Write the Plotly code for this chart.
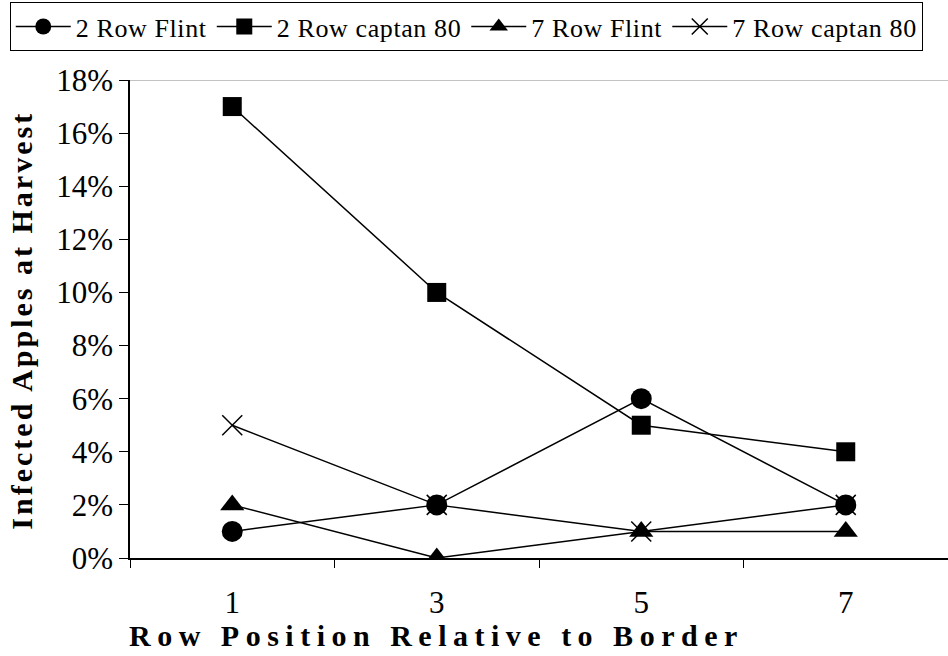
import plotly.graph_objects as go

# Row position relative to the orchard border
rows = ["1", "3", "5", "7"]

# Fraction of apples infected at harvest, per treatment
flint_2row = [0.01, 0.02, 0.06, 0.02]
captan_2row = [0.17, 0.10, 0.05, 0.04]
flint_7row = [0.02, 0.00, 0.01, 0.01]
captan_7row = [0.05, 0.02, 0.01, 0.02]

series_names = ["2 Row Flint", "2 Row captan 80", "7 Row Flint", "7 Row captan 80"]

y_tick_vals = [0.00, 0.02, 0.04, 0.06, 0.08, 0.10, 0.12, 0.14, 0.16, 0.18]
y_tick_text = ["0%", "2%", "4%", "6%", "8%", "10%", "12%", "14%", "16%", "18%"]

x_title = "Row Position Relative to Border"
y_title = "Infected Apples at Harvest"

SERIF = "Liberation Serif"
LINE = dict(color="black", width=1.5)


def spaced(text, px):
    return f"<span style='letter-spacing:{px}px'>{text}</span>"


fig = go.Figure()

# the cross series sits underneath the filled markers
fig.add_trace(go.Scatter(
    x=rows, y=captan_7row, name=spaced(series_names[3], 0.6), mode="lines+markers",
    line=LINE, legendrank=4,
    marker=dict(symbol="x-thin", size=20, color="black",
                line=dict(color="black", width=1.5)),
))
fig.add_trace(go.Scatter(
    x=rows, y=flint_2row, name=spaced(series_names[0], 0.6), mode="lines+markers",
    line=LINE, legendrank=1,
    marker=dict(symbol="circle", size=21, color="black"),
))
fig.add_trace(go.Scatter(
    x=rows, y=captan_2row, name=spaced(series_names[1], 0.6), mode="lines+markers",
    line=LINE, legendrank=2,
    marker=dict(symbol="square", size=19, color="black"),
))
fig.add_trace(go.Scatter(
    x=rows, y=flint_7row, name=spaced(series_names[2], 0.6), mode="lines+markers",
    line=LINE, legendrank=3,
    marker=dict(symbol="triangle-up", size=21, color="black"),
))

# thin frame line along the top of the plotting area
fig.add_shape(type="line", xref="paper", yref="y", x0=0, x1=1, y0=0.18, y1=0.18,
              line=dict(color="#888888", width=1))

# axis titles
fig.add_annotation(
    text="<b>" + spaced(x_title, 6.5) + "</b>", xref="paper", yref="paper",
    x=0.3753, y=-0.162, xanchor="center", yanchor="middle", showarrow=False,
    font=dict(family=SERIF, size=30, color="black"),
)
fig.add_annotation(
    text="<b>" + spaced(y_title, 3) + "</b>", xref="paper", yref="paper",
    x=-0.133, y=0.497, xanchor="center", yanchor="middle", showarrow=False,
    textangle=-90, font=dict(family=SERIF, size=30, color="black"),
)

fig.update_layout(
    width=948, height=656,
    margin=dict(l=130, r=0, t=80, b=98),
    paper_bgcolor="white", plot_bgcolor="white",
    font=dict(family=SERIF, color="black", size=30),
    showlegend=True,
    legend=dict(
        orientation="h", x=-0.147, xanchor="left", y=1.163, yanchor="top",
        bordercolor="black", borderwidth=1, bgcolor="white",
        font=dict(family=SERIF, size=26, color="black"),
        traceorder="normal", itemwidth=55,
    ),
    xaxis=dict(
        type="category", range=[-0.5, 3.5],
        showline=True, linecolor="black", linewidth=1.5,
        ticks="outside", tickson="boundaries", ticklen=8, tickcolor="black",
        showgrid=False, zeroline=False,
        tickfont=dict(family=SERIF, size=31), ticklabelstandoff=16,
    ),
    yaxis=dict(
        range=[0, 0.18], tickvals=y_tick_vals, ticktext=y_tick_text,
        showline=True, linecolor="black", linewidth=1.5,
        ticks="outside", ticklen=9, tickcolor="black",
        showgrid=False, zeroline=False,
        tickfont=dict(family=SERIF, size=31),
    ),
)

fig.write_html("out.html")
